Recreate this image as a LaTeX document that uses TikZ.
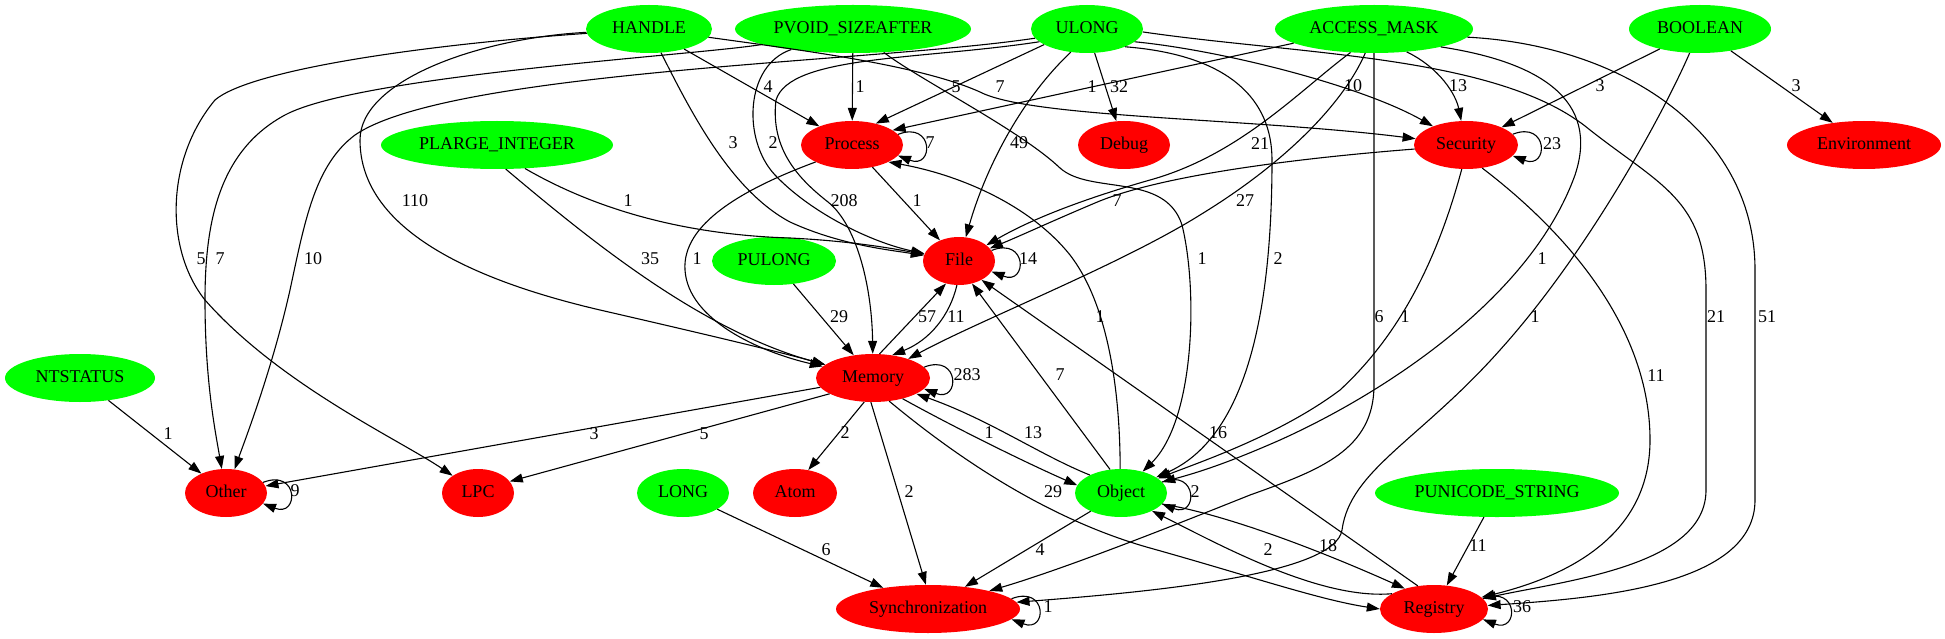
\documentclass[tikz,border=0pt]{standalone}
\usepackage{fontspec}
\setmainfont{Liberation Serif}
\usetikzlibrary{shapes.geometric,arrows.meta}
\definecolor{gg}{RGB}{0,255,0}
\definecolor{rr}{RGB}{255,0,0}
\newcommand\gfont{\fontsize{18}{20}\selectfont}
\newcommand\sloop[2]{\draw[e] (#1.#2) .. controls +(36,-14) and +(36,14) .. (#1.-#2);}
\begin{document}
\begin{tikzpicture}[x=1pt,y=-1pt,
  gvbase/.style={ellipse, inner sep=0pt, minimum height=48pt, text height=12.5pt, text depth=3.5pt, font=\gfont},
  gn/.style={gvbase, fill=gg},
  rn/.style={gvbase, fill=rr},
  e/.style={line width=1.1pt, -{Triangle[length=13pt,width=9pt]}},
  lbl/.style={inner sep=0pt, text height=12.5pt, text depth=3.5pt, font=\gfont}]
\useasboundingbox (0,0) rectangle (1945,639);
% nodes
\node[gn, minimum width=126pt] (HANDLE) at (649,29) {\makebox[0pt]{HANDLE}};
\node[gn, minimum width=236pt] (PVOID) at (853,29) {\makebox[0pt]{PVOID\_SIZEAFTER}};
\node[gn, minimum width=112pt] (ULONG) at (1087,29) {\makebox[0pt]{ULONG}};
\node[gn, minimum width=198pt] (ACCESS) at (1374,29) {\makebox[0pt]{ACCESS\_MASK}};
\node[gn, minimum width=142pt] (BOOLEAN) at (1700,29) {\makebox[0pt]{BOOLEAN}};
\node[gn, minimum width=232pt] (PLARGE) at (497,145) {\makebox[0pt]{PLARGE\_INTEGER}};
\node[rn, minimum width=102pt] (Process) at (852,145) {\makebox[0pt]{Process}};
\node[rn, minimum width=92pt] (Debug) at (1124,145) {\makebox[0pt]{Debug}};
\node[rn, minimum width=104pt] (Security) at (1466,145) {\makebox[0pt]{Security}};
\node[rn, minimum width=154pt] (Environment) at (1864,145) {\makebox[0pt]{Environment}};
\node[gn, minimum width=124pt] (PULONG) at (774,261) {\makebox[0pt]{PULONG}};
\node[rn, minimum width=72pt] (File) at (959,261) {\makebox[0pt]{File}};
\node[gn, minimum width=150pt] (NTSTATUS) at (80,378) {\makebox[0pt]{NTSTATUS}};
\node[rn, minimum width=114pt] (Memory) at (873,378) {\makebox[0pt]{Memory}};
\node[rn, minimum width=82pt] (Other) at (226,493) {\makebox[0pt]{Other}};
\node[rn, minimum width=72pt] (LPC) at (478,493) {\makebox[0pt]{LPC}};
\node[gn, minimum width=92pt] (LONG) at (683,493) {\makebox[0pt]{LONG}};
\node[rn, minimum width=84pt] (Atom) at (795,493) {\makebox[0pt]{Atom}};
\node[gn, minimum width=92pt] (Object) at (1121,493) {\makebox[0pt]{Object}};
\node[gn, minimum width=244pt] (PUNICODE) at (1497,493) {\makebox[0pt]{PUNICODE\_STRING}};
\node[rn, minimum width=184pt] (Sync) at (928,609) {\makebox[0pt]{Synchronization}};
\node[rn, minimum width=108pt] (Registry) at (1434,609) {\makebox[0pt]{Registry}};
% edges
\draw[e] (HANDLE) -- (Process);
\draw[e] (HANDLE) .. controls (800,50) and (920,65) .. (980,92) .. controls (1030,118) and (1250,118) .. (Security);
\draw[e] (HANDLE) .. controls (690,110) and (730,190) .. (790,222) .. controls (840,245) and (890,250) .. (File);
\draw[e] (HANDLE) .. controls (480,38) and (360,80) .. (360,140) .. controls (360,220) and (450,275) .. (600,310) .. controls (700,333) and (780,352) .. (Memory);
\draw[e] (HANDLE) .. controls (420,45) and (250,70) .. (215,100) .. controls (165,160) and (165,250) .. (205,300) .. controls (280,385) and (400,440) .. (LPC);
\draw[e] (PVOID) .. controls (700,55) and (360,75) .. (285,115) .. controls (220,150) and (205,220) .. (205,300) .. controls (205,380) and (215,430) .. (Other);
\draw[e] (ULONG.190) .. controls (880,62) and (450,70) .. (355,135) .. controls (315,165) and (305,220) .. (290,290) .. controls (272,370) and (245,440) .. (Other);
\draw[e] (PVOID) -- (Process);
\draw[e] (PVOID) .. controls (745,65) and (742,140) .. (775,175) .. controls (810,212) and (870,242) .. (File);
\draw[e] (PVOID) .. controls (920,80) and (1020,130) .. (1060,168) .. controls (1090,195) and (1165,172) .. (1182,225) .. controls (1198,290) and (1195,420) .. (Object);
\draw[e] (ULONG.200) -- (Process.42);
\draw[e] (ULONG) -- (Debug);
\draw[e] (ULONG.235) .. controls (1020,100) and (985,170) .. (File);
\draw[e] (ULONG.195) .. controls (920,60) and (790,55) .. (776,100) .. controls (770,150) and (800,180) .. (828,202) .. controls (858,226) and (872,290) .. (Memory);
\draw[e] (ULONG.345) .. controls (1220,50) and (1360,85) .. (Security);
\draw[e] (ULONG.335) .. controls (1230,55) and (1272,100) .. (1272,160) .. controls (1272,330) and (1240,440) .. (Object);
\draw[e] (ULONG.357) .. controls (1300,55) and (1500,55) .. (1590,130) .. controls (1660,185) and (1706,200) .. (1706,290) -- (1706,490) .. controls (1706,565) and (1570,580) .. (Registry);
\draw[e] (ACCESS.190) -- (Process.20);
\draw[e] (ACCESS.325) .. controls (1440,68) and (1456,95) .. (Security);
\draw[e] (ACCESS.225) .. controls (1300,90) and (1240,155) .. (1150,180) .. controls (1080,200) and (1030,220) .. (File);
\draw[e] (ACCESS.250) .. controls (1345,100) and (1290,160) .. (1200,215) .. controls (1120,265) and (980,320) .. (Memory);
\draw[e] (ACCESS) -- (1374,385) .. controls (1374,450) and (1320,470) .. (1250,495) .. controls (1150,535) and (1060,570) .. (Sync);
\draw[e] (BOOLEAN) .. controls (1665,110) and (1590,250) .. (1500,350) .. controls (1420,440) and (1350,470) .. (1342,530) .. controls (1335,575) and (1150,592) .. (Sync);
\draw[e] (ACCESS.345) .. controls (1540,62) and (1600,100) .. (1575,175) .. controls (1530,300) and (1380,395) .. (1280,440) .. controls (1230,462) and (1200,472) .. (Object);
\draw[e] (ACCESS.355) .. controls (1620,45) and (1755,130) .. (1755,270) -- (1755,500) .. controls (1755,585) and (1600,598) .. (Registry);
\draw[e] (Security) .. controls (1300,158) and (1160,175) .. (1095,203) .. controls (1050,222) and (1020,236) .. (File);
\draw[e] (Security.260) .. controls (1440,250) and (1405,330) .. (1340,390) .. controls (1280,435) and (1200,462) .. (Object);
\draw[e] (Security.305) .. controls (1570,235) and (1650,330) .. (1650,440) .. controls (1650,540) and (1560,578) .. (Registry);
\draw[e] (BOOLEAN) -- (Security);
\draw[e] (BOOLEAN) -- (Environment);
\draw[e] (Process) -- (File);
\draw[e] (Process.205) .. controls (740,190) and (682,225) .. (685,270) .. controls (688,320) and (760,352) .. (Memory);
\draw[e] (PLARGE.320) .. controls (600,212) and (690,235) .. (790,238) .. controls (850,241) and (890,248) .. (File);
\draw[e] (PLARGE.290) .. controls (590,240) and (700,330) .. (Memory);
\draw[e] (PULONG) -- (Memory);
\draw[e] (Memory.75) -- (File.240);
\draw[e] (File.265) .. controls (950,315) and (930,340) .. (Memory.50);
\draw[e] (Memory.190) -- (Other.10);
\draw[e] (Memory.200) -- (LPC.20);
\draw[e] (Memory.250) -- (Atom.60);
\draw[e] (Memory.265) -- (Sync.95);
\draw[e] (Memory.325) .. controls (950,425) and (1020,460) .. (Object.170);
\draw[e] (Object.150) .. controls (1040,455) and (990,420) .. (Memory.340);
\draw[e] (Registry.125) -- (File.320);
\draw[e] (Memory.305) .. controls (960,460) and (1050,520) .. (1150,548) .. controls (1250,576) and (1320,600) .. (Registry.180);
\draw[e] (Object.345) .. controls (1230,515) and (1330,555) .. (Registry.145);
\draw[e] (Registry.160) .. controls (1320,600) and (1220,545) .. (Object.330);
\draw[e] (Object) -- (Sync);
\draw[e] (Object.115) -- (File.300);
\draw[e] (Object.92) .. controls (1120,380) and (1105,300) .. (1070,255) .. controls (1030,205) and (960,175) .. (Process.335);
\draw[e] (LONG) -- (Sync);
\draw[e] (PUNICODE) -- (Registry);
\draw[e] (NTSTATUS) -- (Other);
% self loops
\sloop{Process}{13.6}
\sloop{File}{18.9}
\sloop{Security}{13.4}
\sloop{Memory}{12.2}
\sloop{Other}{16.8}
\sloop{Object}{15}
\sloop{Sync}{7.7}
\sloop{Registry}{12.9}
% labels
\node[lbl] (l1) at (768,88) {4};
\node[lbl] (l2) at (860,88) {1};
\node[lbl] (l3) at (956,88) {5};
\node[lbl] (l4) at (1000,88) {7};
\node[lbl] (l5) at (1092,88) {1};
\node[lbl] (l6) at (1119,88) {32};
\node[lbl] (l7) at (1353,87) {10};
\node[lbl] (l8) at (1458,87) {13};
\node[lbl] (l9) at (1600,87) {3};
\node[lbl] (l10) at (1796,87) {3};
\node[lbl] (l11) at (733,144) {3};
\node[lbl] (l12) at (773,144) {2};
\node[lbl] (l13) at (930,144) {7};
\node[lbl] (l14) at (1019,144) {49};
\node[lbl] (l15) at (1260,145) {21};
\node[lbl] (l16) at (1552,145) {23};
\node[lbl] (l17) at (415,202) {110};
\node[lbl] (l18) at (628,202) {1};
\node[lbl] (l19) at (844,202) {208};
\node[lbl] (l20) at (917,202) {1};
\node[lbl] (l21) at (1117,202) {7};
\node[lbl] (l22) at (1245,202) {27};
\node[lbl] (l23) at (201,260) {5};
\node[lbl] (l24) at (220,260) {7};
\node[lbl] (l25) at (313,260) {10};
\node[lbl] (l26) at (650,260) {35};
\node[lbl] (l27) at (697,260) {1};
\node[lbl] (l28) at (1028,260) {14};
\node[lbl] (l29) at (1202,260) {1};
\node[lbl] (l30) at (1278,260) {2};
\node[lbl] (l31) at (1542,260) {1};
\node[lbl] (l32) at (839,318) {29};
\node[lbl] (l33) at (927,318) {57};
\node[lbl] (l34) at (956,318) {11};
\node[lbl] (l35) at (1100,318) {1};
\node[lbl] (l36) at (1379,318) {6};
\node[lbl] (l37) at (1405,318) {1};
\node[lbl] (l38) at (1535,318) {1};
\node[lbl] (l39) at (1716,318) {21};
\node[lbl] (l40) at (1767,318) {51};
\node[lbl] (l41) at (967,376) {283};
\node[lbl] (l42) at (1060,376) {7};
\node[lbl] (l43) at (1656,377) {11};
\node[lbl] (l44) at (168,435) {1};
\node[lbl] (l45) at (594,435) {3};
\node[lbl] (l46) at (704,435) {5};
\node[lbl] (l47) at (845,434) {2};
\node[lbl] (l48) at (989,434) {1};
\node[lbl] (l49) at (1033,434) {13};
\node[lbl] (l50) at (1218,434) {16};
\node[lbl] (l51) at (295,492) {9};
\node[lbl] (l52) at (909,493) {2};
\node[lbl] (l53) at (1053,493) {29};
\node[lbl] (l54) at (1195,493) {2};
\node[lbl] (l55) at (826,551) {6};
\node[lbl] (l56) at (1040,551) {4};
\node[lbl] (l57) at (1268,551) {2};
\node[lbl] (l58) at (1328,547) {18};
\node[lbl] (l59) at (1478,547) {11};
\node[lbl] (l60) at (1048,608) {1};
\node[lbl] (l61) at (1522,608) {36};
\end{tikzpicture}
\end{document}
